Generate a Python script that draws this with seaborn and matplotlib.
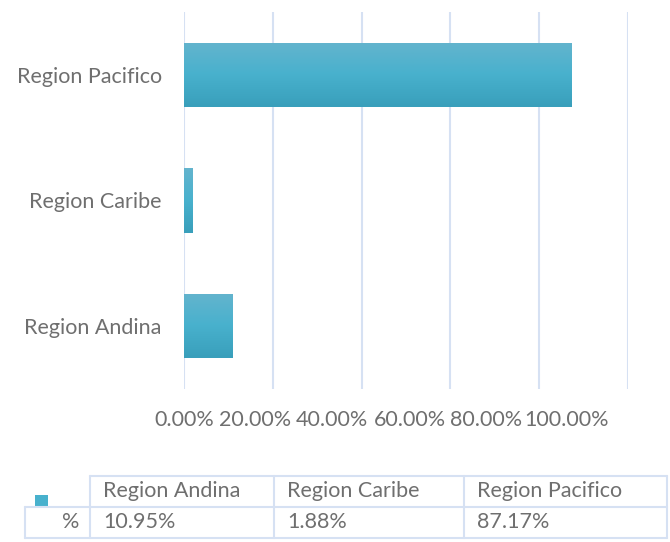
import numpy as np
import pandas as pd
import seaborn as sns
import matplotlib.pyplot as plt
from matplotlib.colors import LinearSegmentedColormap
from matplotlib.patches import Rectangle
from matplotlib.lines import Line2D
from matplotlib.transforms import ScaledTranslation

# data
regions = ["Region Pacifico", "Region Caribe", "Region Andina"]
shares = [87.17, 1.88, 10.95]
table_order = ["Region Andina", "Region Caribe", "Region Pacifico"]
xticks = [0, 20, 40, 60, 80, 100]
series_name = "%"

df = pd.DataFrame({"region": regions, "share": shares})

sns.set_theme(style="white")
plt.rcParams["font.family"] = ["Lato", "DejaVu Sans"]
txt_color = "#6f6f6f"
grid_color = "#d6e1f3"
fs = 15.5

fig = plt.figure(figsize=(6.7, 5.42), dpi=100)
ax = fig.add_axes([0.2746, 0.2823, 0.6627, 0.6956])

sns.barplot(data=df, x="share", y="region", order=regions, color="#4aafcb",
            width=0.51, ax=ax, zorder=2)

# gradient fill like the spreadsheet bars
grad = LinearSegmentedColormap.from_list("bar", ["#63b4cd", "#48b1cd", "#399fbb"])
for p in ax.patches:
    x0, y0 = p.get_x(), p.get_y()
    w, h = p.get_width(), p.get_height()
    im = ax.imshow(np.linspace(0, 1, 50).reshape(-1, 1), cmap=grad, aspect="auto",
                   extent=[x0, x0 + w, y0 + h, y0], zorder=3)
    im.set_clip_path(p)
    p.set_alpha(0)

ax.set_xlim(0, 100)
ax.set_ylim(2.5, -0.5)
ax.set_xticks(xticks)
ax.set_xticklabels([f"{v:.2f}%" for v in xticks])
ax.xaxis.grid(True, color=grid_color, linewidth=1.5, zorder=0)
ax.set_axisbelow(True)
for s in ax.spines.values():
    s.set_visible(False)
ax.tick_params(axis="x", length=0, pad=15, labelsize=fs, labelcolor=txt_color)
ax.tick_params(axis="y", length=0, pad=16, labelsize=fs, labelcolor=txt_color)
ax.set_xlabel("")
ax.set_ylabel("")

# the tick labels in the original are packed side by side, drifting left of the grid
label_shift_px = [0, -18, -30, -40, -53, -61]
for lab, dx in zip(ax.get_xticklabels(), label_shift_px):
    lab.set_transform(lab.get_transform() + ScaledTranslation(dx / 100, 0, fig.dpi_scale_trans))

# data table under the chart
W, H = 670, 542
def fx(px): return px / W
def fy(py): return 1 - py / H

col_edges = [90, 274, 464, 667]
row_edges = [476, 507, 538]
lc = grid_color
lines = [
    ((col_edges[0], row_edges[0]), (col_edges[-1], row_edges[0])),
    ((25, row_edges[1]), (col_edges[-1], row_edges[1])),
    ((25, row_edges[2]), (col_edges[-1], row_edges[2])),
    ((25, row_edges[1]), (25, row_edges[2])),
]
for c in col_edges:
    lines.append(((c, row_edges[0]), (c, row_edges[2])))
for (a, b) in lines:
    fig.add_artist(Line2D([fx(a[0]), fx(b[0])], [fy(a[1]), fy(b[1])],
                          color=lc, linewidth=1.5, transform=fig.transFigure))

vals = dict(zip(regions, shares))
for i, name in enumerate(table_order):
    xl = col_edges[i] + 13
    fig.text(fx(xl), fy(491), name, ha="left", va="center", fontsize=fs, color=txt_color)
    fig.text(fx(xl), fy(522), f"{vals[name]:.2f}%", ha="left", va="center",
             fontsize=fs, color=txt_color)
fig.text(fx(79), fy(522), series_name, ha="right", va="center", fontsize=fs, color=txt_color)

# legend key
fig.add_artist(Rectangle((fx(35), fy(507)), fx(13), 12 / H, transform=fig.transFigure,
                         facecolor="#48b1cd", edgecolor="none"))

fig.savefig("out.png", dpi=100)
